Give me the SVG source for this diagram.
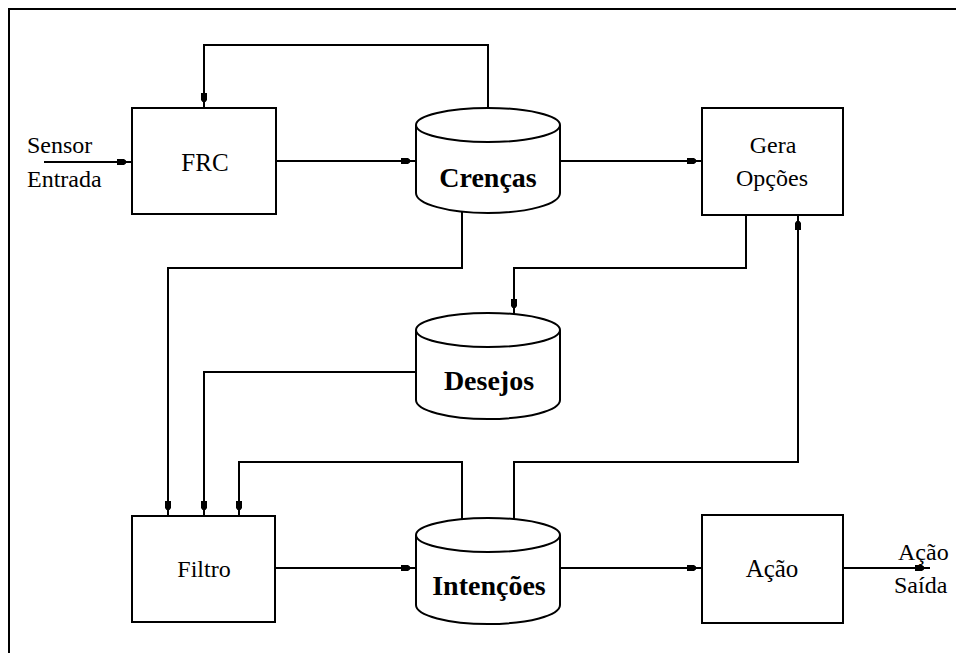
<svg xmlns="http://www.w3.org/2000/svg" width="956" height="653" viewBox="0 0 956 653">
<style>
.box{fill:#fff;stroke:#000;stroke-width:2}
.cyl{fill:#fff;stroke:#000;stroke-width:2}
.lbl{font-family:"Liberation Serif",serif;font-size:24px;fill:#000;text-anchor:middle}
.big{font-family:"Liberation Serif",serif;font-size:28px;font-weight:bold;fill:#000;text-anchor:middle}
.side{font-family:"Liberation Serif",serif;font-size:24px;fill:#000}
.con{fill:none;stroke:#000;stroke-width:2;marker-end:url(#ah)}
</style>
<defs>
<marker id="ah" markerUnits="userSpaceOnUse" viewBox="-16 -5 18 10" refX="0" refY="0" markerWidth="18" markerHeight="10" orient="auto">
<path d="M-15,-3 H-8 L-6,-1.5 V1.5 L-8,3 H-15 Z" fill="#000"/>
</marker>
</defs>
<rect width="956" height="653" fill="#fff"/>
<path d="M9,653 V9 H956" fill="none" stroke="#000" stroke-width="2"/>
<g id="connectors">
<path class="con" d="M44,162 H132"/>
<path class="con" d="M276,161 H416"/>
<path class="con" d="M560,161 H702"/>
<path class="con" d="M488,108 V45 H204 V108"/>
<path class="con" d="M462,212 V268 H168 V516"/>
<path class="con" d="M746,215 V268 H514 V314"/>
<path class="con" d="M416,372 H204 V516"/>
<path class="con" d="M462,519 V462 H239 V516"/>
<path class="con" d="M514,519 V462 H798 V215"/>
<path class="con" d="M275,568 H416"/>
<path class="con" d="M560,568 H702"/>
<path class="con" d="M843,568 H930"/>
</g>
<g id="frc">
<rect class="box" x="132" y="108" width="144" height="106"/>
<text class="lbl" x="205" y="171" style="font-size:25px">FRC</text>
</g>
<g id="crencas">
<path class="cyl" d="M416,125 V193 A72,20 0 0 0 560,193 V125"/>
<ellipse class="cyl" cx="488" cy="125" rx="72" ry="17"/>
<text class="big" x="488" y="187">Crenças</text>
</g>
<g id="gera">
<rect class="box" x="702" y="108" width="141" height="107"/>
<text class="lbl" x="773" y="153">Gera</text>
<text class="lbl" x="772" y="186">Opções</text>
</g>
<g id="desejos">
<path class="cyl" d="M416,330 V400 A72,19 0 0 0 560,400 V330"/>
<ellipse class="cyl" cx="488" cy="330" rx="72" ry="17"/>
<text class="big" x="489" y="390">Desejos</text>
</g>
<g id="filtro">
<rect class="box" x="132" y="516" width="143" height="106"/>
<text class="lbl" x="204" y="577">Filtro</text>
</g>
<g id="intencoes">
<path class="cyl" d="M416,535 V605 A72,19 0 0 0 560,605 V535"/>
<ellipse class="cyl" cx="488" cy="535" rx="72" ry="17"/>
<text class="big" x="489" y="595">Intenções</text>
</g>
<g id="acao">
<rect class="box" x="702" y="515" width="141" height="108"/>
<text class="lbl" x="772" y="577" style="font-size:25px">Ação</text>
</g>
<g id="sensor">
<text class="side" x="27" y="153">Sensor</text>
<text class="side" x="27" y="187">Entrada</text>
</g>
<g id="saida">
<text class="side" x="898" y="560">Ação</text>
<text class="side" x="894" y="593">Saída</text>
</g>
</svg>
